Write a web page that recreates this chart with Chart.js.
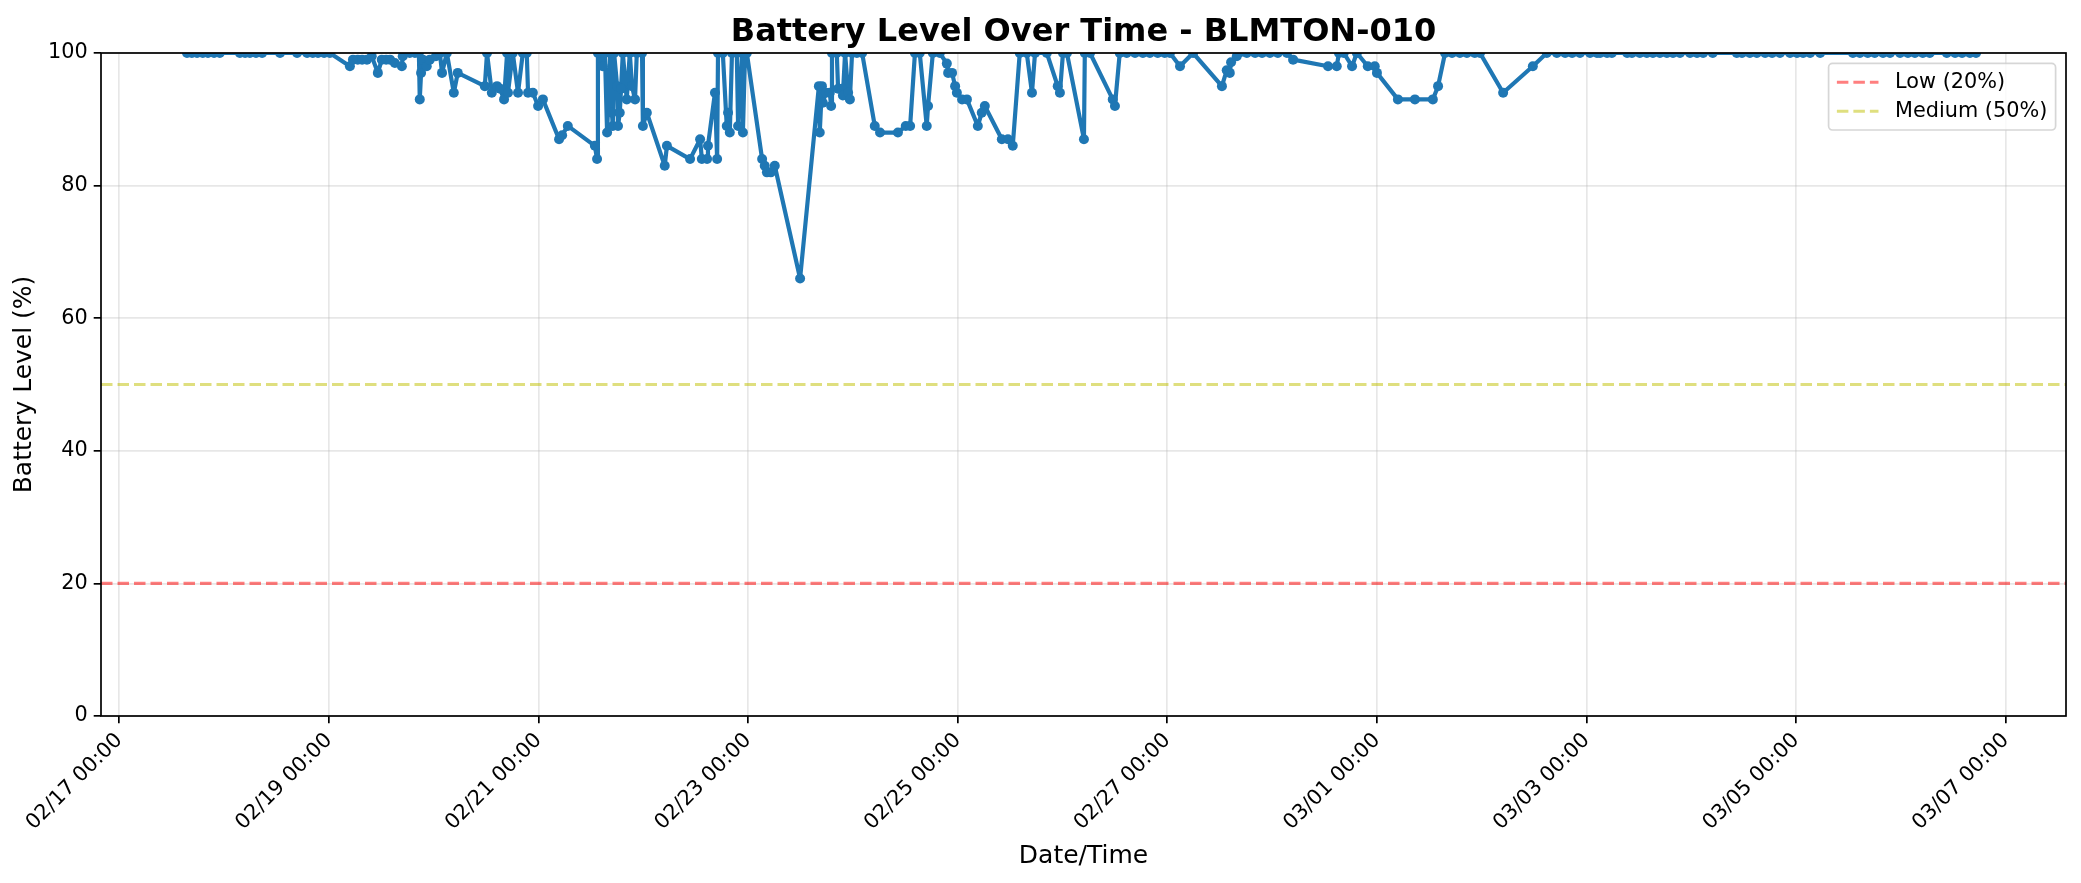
<!DOCTYPE html>
<html>
<head>
<meta charset="utf-8">
<title>Battery Level Over Time - BLMTON-010</title>
<script src="https://cdn.jsdelivr.net/npm/chart.js@4.4.1/dist/chart.umd.min.js"></script>
<style>
  html, body { margin: 0; padding: 0; background: #fff; }
  #wrap { width: 2081px; height: 883px; }
</style>
</head>
<body>
<div id="wrap"><canvas id="chart"></canvas></div>
<script>
// hours since 02/17 00:00 for every reading
const readingHours = [
  15.5, 16.6, 17.8, 19.1, 20.3, 21.7, 23.0, 27.6, 28.8, 29.9, 31.3, 32.7, 36.8, 40.7, 43.0, 44.3, 45.5, 46.9, 48.2,
  52.8, 53.5, 54.6, 55.6, 56.7, 57.8, 59.2, 60.1, 61.1, 62.0, 63.1, 64.7, 64.9, 66.5, 67.7, 68.6, 68.8, 69.1, 69.5,
  70.4, 71.1, 72.5, 73.4, 73.9, 75.0, 76.6, 77.5, 83.7, 84.2, 85.3, 86.5, 87.2, 88.1, 88.8, 89.0, 90.1, 91.3, 92.4,
  93.3, 93.6, 94.7, 95.9, 97.0, 100.7, 101.4, 102.7, 108.9, 109.4, 109.6, 110.1, 110.7, 111.2, 111.7, 112.4, 112.8,
  113.0, 113.3, 114.0, 114.2, 114.6, 114.9, 115.3, 116.2, 116.9, 117.4, 118.1, 118.5, 119.7, 119.9, 120.8, 124.9,
  125.4, 130.7, 133.0, 133.4, 134.6, 134.8, 136.4, 136.9, 137.1, 138.2, 139.1, 139.4, 139.8, 140.3, 141.4, 141.7,
  142.6, 142.8, 143.3, 143.7, 147.2, 147.8, 148.3, 149.2, 150.1, 155.9, 160.2, 160.4, 160.9, 161.1, 161.8, 162.7,
  163.0, 163.2, 164.3, 164.6, 165.5, 165.7, 166.2, 166.9, 167.3, 167.8, 168.9, 170.1, 173.0, 174.2, 178.3, 180.1,
  181.1, 182.2, 183.3, 184.9, 185.2, 186.3, 187.9, 189.5, 189.8, 190.7, 191.4, 191.8, 193.0, 194.1, 196.6, 197.5,
  198.2, 202.1, 203.5, 204.6, 206.2, 207.8, 209.0, 209.7, 212.4, 214.9, 215.4, 216.1, 217.0, 220.9, 221.1, 222.3,
  227.5, 228.0, 229.1, 230.7, 232.6, 234.4, 236.0, 237.8, 239.4, 240.6, 242.9, 245.9, 252.5, 253.6, 254.3, 254.6,
  255.9, 258.2, 260.1, 261.7, 263.5, 265.3, 267.4, 268.8, 276.8, 278.8, 279.3, 280.4, 282.3, 283.4, 285.9, 287.5,
  288.0, 292.8, 296.7, 300.8, 302.0, 303.6, 305.2, 307.0, 308.6, 310.4, 311.6, 316.9, 323.7, 326.9, 329.2, 331.1,
  332.7, 334.5, 336.8, 338.4, 339.1, 340.7, 341.8, 345.3, 346.4, 348.2, 349.8, 351.2, 352.8, 354.4, 355.8, 357.4,
  359.7, 361.3, 362.7, 364.9, 370.4, 371.6, 373.4, 375.0, 376.9, 378.5, 380.3, 382.6, 384.2, 385.6, 387.2, 389.5,
  397.0, 398.6, 400.4, 402.0, 403.9, 405.5, 407.8, 409.6, 411.2, 413.0, 414.6, 418.5, 420.4, 422.0, 423.8, 425.2
];
const batteryLevel = [
  100, 100, 100, 100, 100, 100, 100, 100, 100, 100, 100, 100, 100, 100, 100, 100, 100, 100, 100,
  98, 99, 99, 99, 99, 99.5, 97, 99, 99, 99, 98.5, 98, 99.5, 100, 100, 100, 93, 97, 99,
  98, 99, 99.5, 100, 97, 100, 94, 97, 95, 100, 94, 95, 94.6, 93, 100, 94, 100, 94, 100,
  100, 94, 94, 92, 93, 87, 87.6, 89, 86, 84, 100, 100, 98, 100, 88, 100, 91,
  89, 100, 95, 89, 91, 94.6, 100, 93, 100, 95, 93, 100, 100, 89, 91, 83,
  86, 84, 87, 84, 84, 86, 94, 84, 100, 100, 89, 91, 88, 100, 100, 89,
  100, 88, 100, 100, 84, 83, 82, 82, 83, 66, 95, 88, 95, 92.5, 94, 94,
  92, 100, 100, 94.6, 94.6, 93.6, 100, 94, 93, 100, 100, 100, 89, 88, 88, 89,
  89, 100, 100, 89, 92, 100, 100, 98.4, 97, 97, 95, 94, 93, 93, 89, 91,
  92, 87, 87, 86, 100, 100, 94, 100, 100, 95, 94, 100, 100, 87, 100, 100,
  93, 92, 100, 100, 100, 100, 100, 100, 100, 100, 98, 100, 95, 97.4, 97, 98.6,
  99.5, 100, 100, 100, 100, 100, 100, 99, 98, 98, 100, 100, 98, 100, 98, 98,
  97, 93, 93, 93, 95, 100, 100, 100, 100, 100, 100, 94, 98, 100, 100, 100,
  100, 100, 100, 100, 100, 100, 100, 100, 100, 100, 100, 100, 100, 100, 100, 100,
  100, 100, 100, 100, 100, 100, 100, 100, 100, 100, 100, 100, 100, 100, 100, 100,
  100, 100, 100, 100, 100, 100, 100, 100, 100, 100, 100, 100, 100, 100, 100, 100
];
const xTickHours = [0, 48, 96, 144, 192, 240, 288, 336, 384, 432];
const xTickLabels = ['02/17 00:00', '02/19 00:00', '02/21 00:00', '02/23 00:00', '02/25 00:00',
  '02/27 00:00', '03/01 00:00', '03/03 00:00', '03/05 00:00', '03/07 00:00'];
const yTicks = [0, 20, 40, 60, 80, 100];
const thresholdLabels = ['Low (20%)', 'Medium (50%)'];
const thresholdValues = [20, 50];
const xRange = [-4.2, 445.8];

const FONT = 'DejaVu Sans';
const thresholdColors = ['rgba(255, 0, 0, 0.5)', 'rgba(191, 191, 0, 0.5)'];

const points = readingHours.map((h, i) => ({ x: h, y: batteryLevel[i] }));

const thresholdSets = thresholdValues.map((v, i) => ({
  label: thresholdLabels[i],
  data: [{ x: xRange[0], y: v }, { x: xRange[1], y: v }],
  borderColor: thresholdColors[i],
  borderWidth: 3.1,
  borderDash: [11.5, 5],
  pointRadius: 0,
  fill: false,
}));

// box around the plot, like matplotlib spines
const framePlugin = {
  id: 'frame',
  afterDatasetsDraw(chart) {
    const { ctx, chartArea: a } = chart;
    ctx.save();
    ctx.strokeStyle = '#000';
    ctx.lineWidth = 1.7;
    ctx.strokeRect(a.left, a.top, a.right - a.left, a.bottom - a.top);
    ctx.restore();
  }
};

// legend in the top-right corner inside the plot
const cornerLegend = {
  id: 'cornerLegend',
  afterDraw(chart) {
    const { ctx, chartArea: a } = chart;
    const sets = chart.data.datasets.slice(1);
    const fs = 20.8, pad = 8.3, rowH = 29, handle = 41.6, gap = 16.6;
    ctx.save();
    ctx.font = fs + 'px "' + FONT + '"';
    const textW = Math.max(...sets.map(s => ctx.measureText(s.label).width));
    const w = pad * 2 + handle + gap + textW;
    const h = pad * 2 + 21 + (sets.length - 1) * rowH;
    const x = a.right - 10.4 - w;
    const y = a.top + 10.4;
    ctx.beginPath();
    ctx.roundRect(x, y, w, h, 4);
    ctx.fillStyle = 'rgba(255,255,255,0.8)';
    ctx.fill();
    ctx.strokeStyle = 'rgba(204,204,204,0.8)';
    ctx.lineWidth = 1.7;
    ctx.stroke();
    sets.forEach((s, i) => {
      const cy = y + pad + 10.5 + i * rowH;
      ctx.beginPath();
      ctx.setLineDash(s.borderDash);
      ctx.strokeStyle = s.borderColor;
      ctx.lineWidth = s.borderWidth;
      ctx.moveTo(x + pad, cy);
      ctx.lineTo(x + pad + handle, cy);
      ctx.stroke();
      ctx.setLineDash([]);
      ctx.fillStyle = '#000';
      ctx.textBaseline = 'middle';
      ctx.textAlign = 'left';
      ctx.fillText(s.label, x + pad + handle + gap, cy);
    });
    ctx.restore();
  }
};

new Chart(document.getElementById('chart'), {
  type: 'line',
  data: {
    datasets: [
      {
        label: 'Battery Level',
        data: points,
        borderColor: '#1f77b4',
        backgroundColor: '#1f77b4',
        borderWidth: 4.2,
        borderJoinStyle: 'round',
        borderCapStyle: 'round',
        pointRadius: 5,
        pointBorderWidth: 0,
        pointBackgroundColor: '#1f77b4',
        tension: 0,
        clip: 0,
      },
      ...thresholdSets
    ]
  },
  options: {
    responsive: true,
    maintainAspectRatio: false,
    animation: false,
    layout: { padding: { left: 0, right: 15, top: 0, bottom: 0 } },
    plugins: {
      legend: { display: false },
      tooltip: { enabled: false },
      title: {
        display: true,
        text: 'Battery Level Over Time - BLMTON-010',
        fullSize: false,
        color: '#000',
        font: { family: FONT, size: 32, weight: 'bold' },
        padding: { top: 13, bottom: 1.6 }
      }
    },
    scales: {
      x: {
        type: 'linear',
        min: xRange[0],
        max: xRange[1],
        afterBuildTicks: (scale) => { scale.ticks = xTickHours.map(v => ({ value: v })); },
        afterFit: (scale) => { scale.height = 167; },
        ticks: {
          autoSkip: false,
          maxRotation: 45,
          minRotation: 45,
          padding: 5,
          color: '#000',
          font: { family: FONT, size: 20.8 },
          callback: (value, index) => xTickLabels[index]
        },
        grid: {
          color: 'rgba(176,176,176,0.3)',
          lineWidth: 1.7,
          tickColor: '#000',
          tickLength: 7.3,
          tickWidth: 1.7
        },
        border: { display: false },
        title: {
          display: true,
          text: 'Date/Time',
          color: '#000',
          font: { family: FONT, size: 25 },
          padding: { top: 4, bottom: 12 }
        }
      },
      y: {
        min: 0,
        max: 100,
        afterBuildTicks: (scale) => { scale.ticks = yTicks.map(v => ({ value: v })); },
        afterFit: (scale) => { scale.width = 101; },
        ticks: {
          padding: 6,
          color: '#000',
          font: { family: FONT, size: 20.8 }
        },
        grid: {
          color: 'rgba(176,176,176,0.3)',
          lineWidth: 1.7,
          tickColor: '#000',
          tickLength: 7.3,
          tickWidth: 1.7
        },
        border: { display: false },
        title: {
          display: true,
          text: 'Battery Level (%)',
          color: '#000',
          font: { family: FONT, size: 25 },
          padding: { top: 9, bottom: 4 }
        }
      }
    }
  },
  plugins: [framePlugin, cornerLegend]
});
</script>
</body>
</html>
